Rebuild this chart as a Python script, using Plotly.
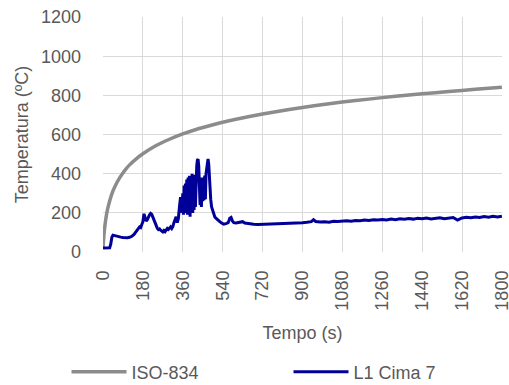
import plotly.graph_objects as go

# ISO-834 standard curve values (time in s, temperature in ºC)
iso_t = [0, 5, 10, 15, 20, 30, 45, 60, 75, 90, 105, 120, 150, 180, 240, 300, 360, 420, 480,
         540, 600, 720, 840, 960, 1080, 1200, 1320, 1440, 1560, 1680, 1800]
iso_T = [20, 96, 147, 185, 215, 261, 312, 349, 379, 404, 426, 445, 476, 502, 544, 576, 603,
         626, 645, 663, 678, 705, 728, 748, 766, 781, 796, 808, 820, 831, 842]

l1_t = [0, 10, 20, 30, 35, 40, 45, 50, 60, 70, 80, 90, 100, 110, 120, 130, 140, 150, 160, 165,
        170, 175, 180, 185, 190, 195, 200, 205, 210, 215, 220, 225, 230, 235, 240, 245, 250, 255,
        260, 265, 270, 275, 280, 285, 290, 295, 300, 305, 310, 315, 320, 325, 330, 335, 340, 345,
        350, 355, 360, 363, 366, 369, 372, 375, 378, 381, 384, 387, 390, 393, 396, 399, 402, 405,
        408, 411, 414, 417, 420, 423, 426, 429, 432, 435, 438, 441, 444, 447, 450, 453, 456, 459,
        462, 465, 468, 471, 474, 477, 480, 483, 486, 490, 495, 500, 505, 512, 520, 527, 535, 545,
        555, 565, 572, 578, 584, 590, 600, 610, 620, 630, 640, 650, 660, 680, 700,
        720, 740, 760, 780, 800, 820, 840, 860, 880, 900, 920, 940, 950, 960, 980, 1000, 1020,
        1040, 1060, 1080, 1100, 1120, 1140, 1160, 1180, 1200, 1220, 1240, 1260, 1280, 1300, 1320,
        1340, 1360, 1380, 1400, 1420, 1440, 1460, 1480, 1500, 1520, 1540, 1560, 1580, 1600, 1620,
        1640, 1660, 1680, 1700, 1720, 1740, 1760, 1780, 1800]
l1_T = [20, 20, 21, 22, 40, 75, 86, 84, 82, 78, 76, 74, 72, 73, 75, 80, 90, 105, 115, 128,
        125, 140, 155, 195, 175, 158, 165, 180, 190, 197, 192, 178, 165, 145, 130, 122, 115, 118,
        111, 106, 103, 110, 104, 112, 120, 115, 122, 128, 120, 130, 150, 165, 180, 150, 170, 230,
        280, 200, 300, 190, 340, 220, 350, 200, 370, 190, 380, 210, 390, 180, 390, 210, 400, 200,
        395, 215, 380, 230, 400, 440, 470, 475, 440, 300, 240, 380, 230, 360, 260, 380, 265, 390,
        270, 400, 440, 470, 475, 450, 380, 330, 270, 230, 210, 190, 178, 170, 160, 155, 148, 142,
        145, 150, 172, 176, 158, 150, 148, 150, 152, 155, 148, 146, 145, 142, 140,
        141, 142, 140, 143, 145, 144, 147, 145, 148, 150, 152, 155, 165, 156, 153, 155, 152,
        157, 156, 158, 160, 157, 161, 160, 163, 161, 165, 163, 166, 164, 168, 165,
        170, 167, 171, 168, 172, 170, 174, 169, 172, 175, 170, 173, 176, 163, 174,
        177, 175, 179, 176, 181, 178, 182, 179, 183]

x_ticks = [0, 180, 360, 540, 720, 900, 1080, 1260, 1440, 1620, 1800]
y_ticks = [0, 200, 400, 600, 800, 1000, 1200]

FONT = "Liberation Sans"
TXT = "#595959"
GRID = "#d9d9d9"

fig = go.Figure()
fig.add_trace(go.Scatter(x=iso_t, y=iso_T, mode="lines", name="ISO-834", legend="legend",
                         line=dict(color="#8c8c8c", width=3.5, shape="spline", smoothing=0.5)))
fig.add_trace(go.Scatter(x=l1_t, y=l1_T, mode="lines", name="L1 Cima 7", legend="legend2",
                         line=dict(color="#000099", width=3)))

legend_common = dict(orientation="h", xref="container", yref="container", y=0.0338,
                     xanchor="left", yanchor="middle", font=dict(size=18, color=TXT),
                     itemwidth=55, bgcolor="rgba(0,0,0,0)")

fig.update_layout(
    width=509, height=385,
    margin=dict(l=103, r=7, t=17, b=133, autoexpand=False),
    paper_bgcolor="white", plot_bgcolor="white",
    font=dict(family=FONT, size=18, color=TXT),
    showlegend=True,
    legend=dict(x=0.1307, **legend_common),
    legend2=dict(x=0.5668, **legend_common),
    xaxis=dict(range=[0, 1800.5], tickvals=x_ticks, ticktext=[str(v) for v in x_ticks],
               tickangle=-90, showgrid=True, gridcolor=GRID, gridwidth=1, automargin=False,
               zeroline=False, showline=False, ticks="", ticklabelstandoff=14,
               ticklabeloverflow="allow",
               title=dict(text="Tempo (s)", standoff=16, font=dict(size=18, color=TXT))),
    yaxis=dict(range=[0, 1200.5], tickvals=y_ticks, showgrid=True, gridcolor=GRID,
               gridwidth=1, zeroline=False, showline=False, ticks="", ticklabelstandoff=21,
               automargin=False, ticklabeloverflow="allow",
               title=dict(text="Temperatura (ºC)", standoff=7, font=dict(size=18, color=TXT))),
)

# remove the browser's default page margin so the 509x385 figure fills the window exactly
fig.write_html("out.html", config={"displayModeBar": False},
               post_script="document.body.style.margin='0';")
